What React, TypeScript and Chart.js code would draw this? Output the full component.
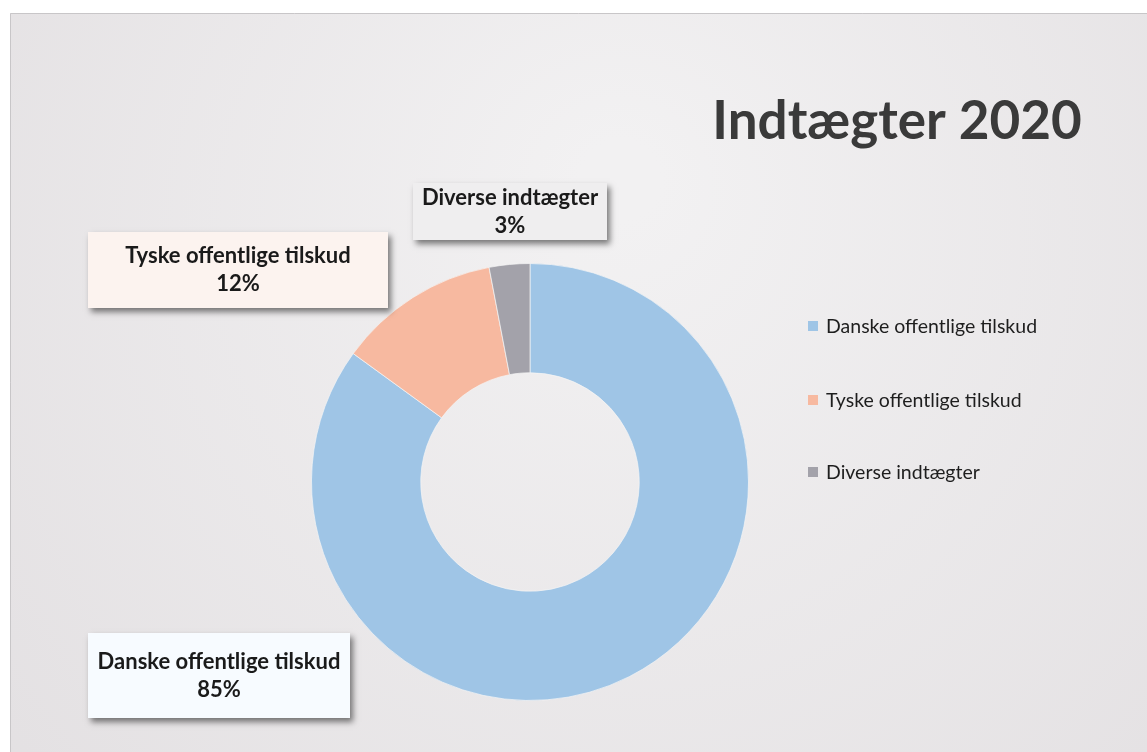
import React, { useEffect, useRef } from "react";
import { Chart, registerables } from "chart.js";

Chart.register(...registerables);

const titleText = "Indtægter 2020";
const categories = ["Danske offentlige tilskud", "Tyske offentlige tilskud", "Diverse indtægter"];
const shares = [85, 12, 3];
const sliceColors = ["#9fc5e6", "#f7b9a0", "#a3a2aa"];
const boxFills = ["#f7fbff", "#fcf3ef", "#efeeef"];
// callout box placement (x, y, w, h) on the slide
const boxRects = [
  [88, 633, 262, 85],
  [88, 232, 300, 76],
  [413, 183, 194, 57],
];

const FONT = "Lato, 'Open Sans', sans-serif";

const slidePlugin = {
  id: "slide",
  beforeDraw(chart: any) {
    const { ctx, width, height } = chart;
    ctx.save();
    ctx.fillStyle = "#ffffff";
    ctx.fillRect(0, 0, width, height);
    const g = ctx.createRadialGradient(620, 180, 40, 620, 300, 800);
    g.addColorStop(0, "#f2f1f2");
    g.addColorStop(1, "#e3e0e2");
    ctx.fillStyle = g;
    ctx.fillRect(10, 13, width - 10, height - 13);
    ctx.strokeStyle = "#c8c6c8";
    ctx.lineWidth = 1;
    ctx.beginPath();
    ctx.moveTo(10.5, height);
    ctx.lineTo(10.5, 13.5);
    ctx.lineTo(width, 13.5);
    ctx.stroke();
    ctx.restore();
  },
  afterDraw(chart: any) {
    const { ctx } = chart;
    ctx.save();
    // title
    ctx.fillStyle = "#3a3a3a";
    ctx.font = `bold 53px ${FONT}`;
    ctx.textAlign = "center";
    ctx.textBaseline = "middle";
    ctx.fillText(titleText, 897, 122);

    // legend
    const legendY = [326, 400, 472];
    ctx.font = `19.5px ${FONT}`;
    ctx.textAlign = "left";
    categories.forEach((c, i) => {
      ctx.fillStyle = sliceColors[i];
      ctx.fillRect(808, legendY[i] - 5, 10, 10);
      ctx.fillStyle = "#1e1e1e";
      ctx.fillText(c, 826, legendY[i] + 1);
    });

    // callouts
    const total = shares.reduce((a, b) => a + b, 0);
    categories.forEach((c, i) => {
      const [x, y, w, h] = boxRects[i];
      ctx.save();
      ctx.shadowColor = "rgba(0,0,0,0.5)";
      ctx.shadowBlur = 6;
      ctx.shadowOffsetX = 3;
      ctx.shadowOffsetY = 4;
      ctx.fillStyle = boxFills[i];
      ctx.fillRect(x, y, w, h);
      ctx.restore();
      ctx.fillStyle = "#1a1a1a";
      ctx.font = `bold 22px ${FONT}`;
      ctx.textAlign = "center";
      ctx.textBaseline = "middle";
      const cx = x + w / 2;
      const cy = y + h / 2;
      ctx.fillText(c, cx, cy - 14);
      ctx.fillText(Math.round((shares[i] / total) * 100) + "%", cx, cy + 14);
    });
    ctx.restore();
  },
};

export default function App() {
  const ref = useRef<HTMLCanvasElement | null>(null);
  useEffect(() => {
    document.body.style.margin = "0";
    if (!ref.current) return;
    const chart = new Chart(ref.current, {
      type: "doughnut",
      data: {
        labels: categories,
        datasets: [
          {
            data: shares,
            backgroundColor: sliceColors,
            borderColor: "rgba(245,245,245,0.7)",
            borderWidth: 1,
          },
        ],
      },
      options: {
        responsive: false,
        animation: false,
        cutout: "50%",
        layout: { padding: { left: 311, right: 398, top: 263, bottom: 51 } },
        plugins: {
          legend: { display: false },
          tooltip: { enabled: false },
          title: { display: false },
        },
      },
      plugins: [slidePlugin],
    });
    return () => chart.destroy();
  }, []);
  return <canvas ref={ref} width={1147} height={752} style={{ display: "block" }} />;
}
